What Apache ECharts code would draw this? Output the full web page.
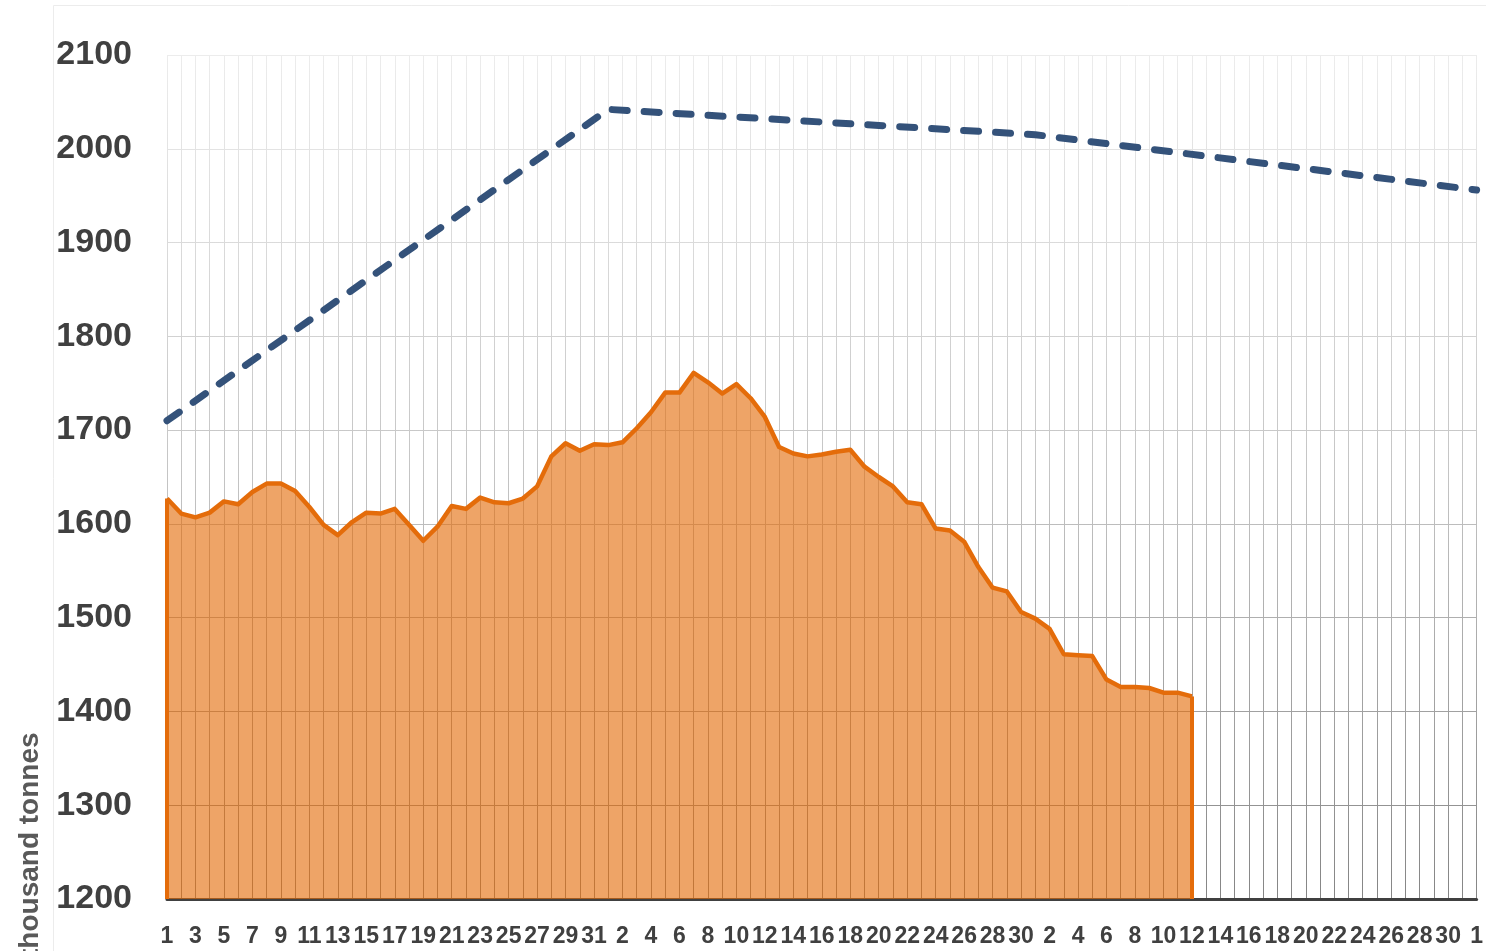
<!DOCTYPE html>
<html>
<head>
<meta charset="utf-8">
<script src="https://cdn.jsdelivr.net/npm/echarts@6/dist/echarts.min.js"></script>
<style>
html,body{margin:0;padding:0;background:#fff;}
#chart{width:1486px;height:951px;}
</style>
</head>
<body>
<div id="chart"></div>
<script>
// Month lengths of the x axis (days per month; last month shows only day 1)
const monthLengths = [31, 30, 31, 1];
// Category keys (month index + day); labels show only the day
const categories = [];
monthLengths.forEach((n, m) => { for (let d = 1; d <= n; d++) categories.push(m + '-' + d); });

// Actual stocks (thousand tonnes), daily
const actual = [
  1627, 1611, 1607, 1612, 1624, 1621, 1634, 1643, 1643, 1635,
  1618, 1599, 1588, 1602, 1612, 1611, 1616, 1599, 1582, 1597,
  1619, 1616, 1628, 1623, 1622, 1627, 1640, 1672, 1686, 1678,
  1685, 1684, 1687, 1702, 1719, 1740, 1740, 1761, 1751, 1739,
  1749, 1734, 1714, 1682, 1675, 1672, 1674, 1677, 1679, 1661,
  1650, 1640, 1623, 1621, 1595, 1593, 1581, 1554, 1532, 1528,
  1506, 1499, 1488, 1461, 1460, 1459, 1434, 1426, 1426, 1425,
  1420, 1420, 1416
];

// Target path: known points at month boundaries (null = no point)
const targetPoints = { 0: 1710, 31: 2042, 61: 2015, 92: 1956 };
const target = categories.map((c, i) => (i in targetPoints ? targetPoints[i] : null));

const yTicks = { min: 1200, max: 2100, interval: 100 };
const yName = 'thousand tonnes';

const chart = echarts.init(document.getElementById('chart'), null, { renderer: 'canvas' });

const gridGrad = new echarts.graphic.LinearGradient(0, 55, 0, 899, [
  { offset: 0, color: '#ececec' },
  { offset: 0.5, color: '#c4c4c4' },
  { offset: 1, color: '#858585' }
], true);

const orange = '#E46C0A';
const lastIdx = actual.length - 1;

chart.setOption({
  animation: false,
  backgroundColor: '#ffffff',
  grid: { left: 167, right: 6, top: 55, bottom: 52, containLabel: false },
  xAxis: {
    type: 'category',
    data: categories,
    boundaryGap: false,
    axisLine: { show: true, onZero: false, lineStyle: { color: '#404040', width: 3 } },
    axisTick: { show: false },
    axisLabel: {
      interval: 1,
      margin: 26,
      color: '#404040',
      fontFamily: 'Liberation Sans',
      fontWeight: 'bold',
      fontSize: 23,
      formatter: v => v.split('-')[1]
    },
    splitLine: { show: true, interval: 0, lineStyle: { color: gridGrad, width: 1 } }
  },
  yAxis: {
    type: 'value',
    min: yTicks.min,
    max: yTicks.max,
    interval: yTicks.interval,
    axisLine: { show: false },
    axisTick: { show: false },
    axisLabel: {
      margin: 35,
      color: '#404040',
      fontFamily: 'Liberation Sans',
      fontWeight: 'bold',
      fontSize: 34,
      formatter: v => String(v)
    },
    splitLine: { show: true, lineStyle: { color: gridGrad, width: 1 } }
  },
  graphic: [
    {
      type: 'rect',
      silent: true,
      z: -10,
      shape: { x: 53.5, y: 5.5, width: 1500, height: 1000 },
      style: { fill: 'none', stroke: '#ececec', lineWidth: 1 }
    },
    {
      type: 'text',
      silent: true,
      x: 30,
      y: 958,
      rotation: Math.PI / 2,
      style: {
        text: yName,
        fill: '#595959',
        font: 'bold 28px "Liberation Sans"',
        textAlign: 'left',
        textVerticalAlign: 'middle'
      }
    }
  ],
  series: [
    {
      name: 'Actual',
      type: 'line',
      data: actual,
      symbol: 'none',
      lineStyle: { color: orange, width: 4.5, join: 'round' },
      areaStyle: { color: orange, opacity: 0.62, origin: 'start' },
      z: 2,
      markLine: {
        silent: true,
        symbol: 'none',
        label: { show: false },
        lineStyle: { color: orange, width: 4, type: 'solid' },
        data: [
          [{ coord: [0, yTicks.min] }, { coord: [0, actual[0]] }],
          [{ coord: [lastIdx, yTicks.min] }, { coord: [lastIdx, actual[lastIdx]] }]
        ]
      }
    },
    {
      name: 'Target',
      type: 'line',
      data: target,
      connectNulls: true,
      symbol: 'none',
      lineStyle: { color: '#34527A', width: 7, type: [15, 17], cap: 'round', join: 'round' },
      z: 3
    }
  ]
});
</script>
</body>
</html>
